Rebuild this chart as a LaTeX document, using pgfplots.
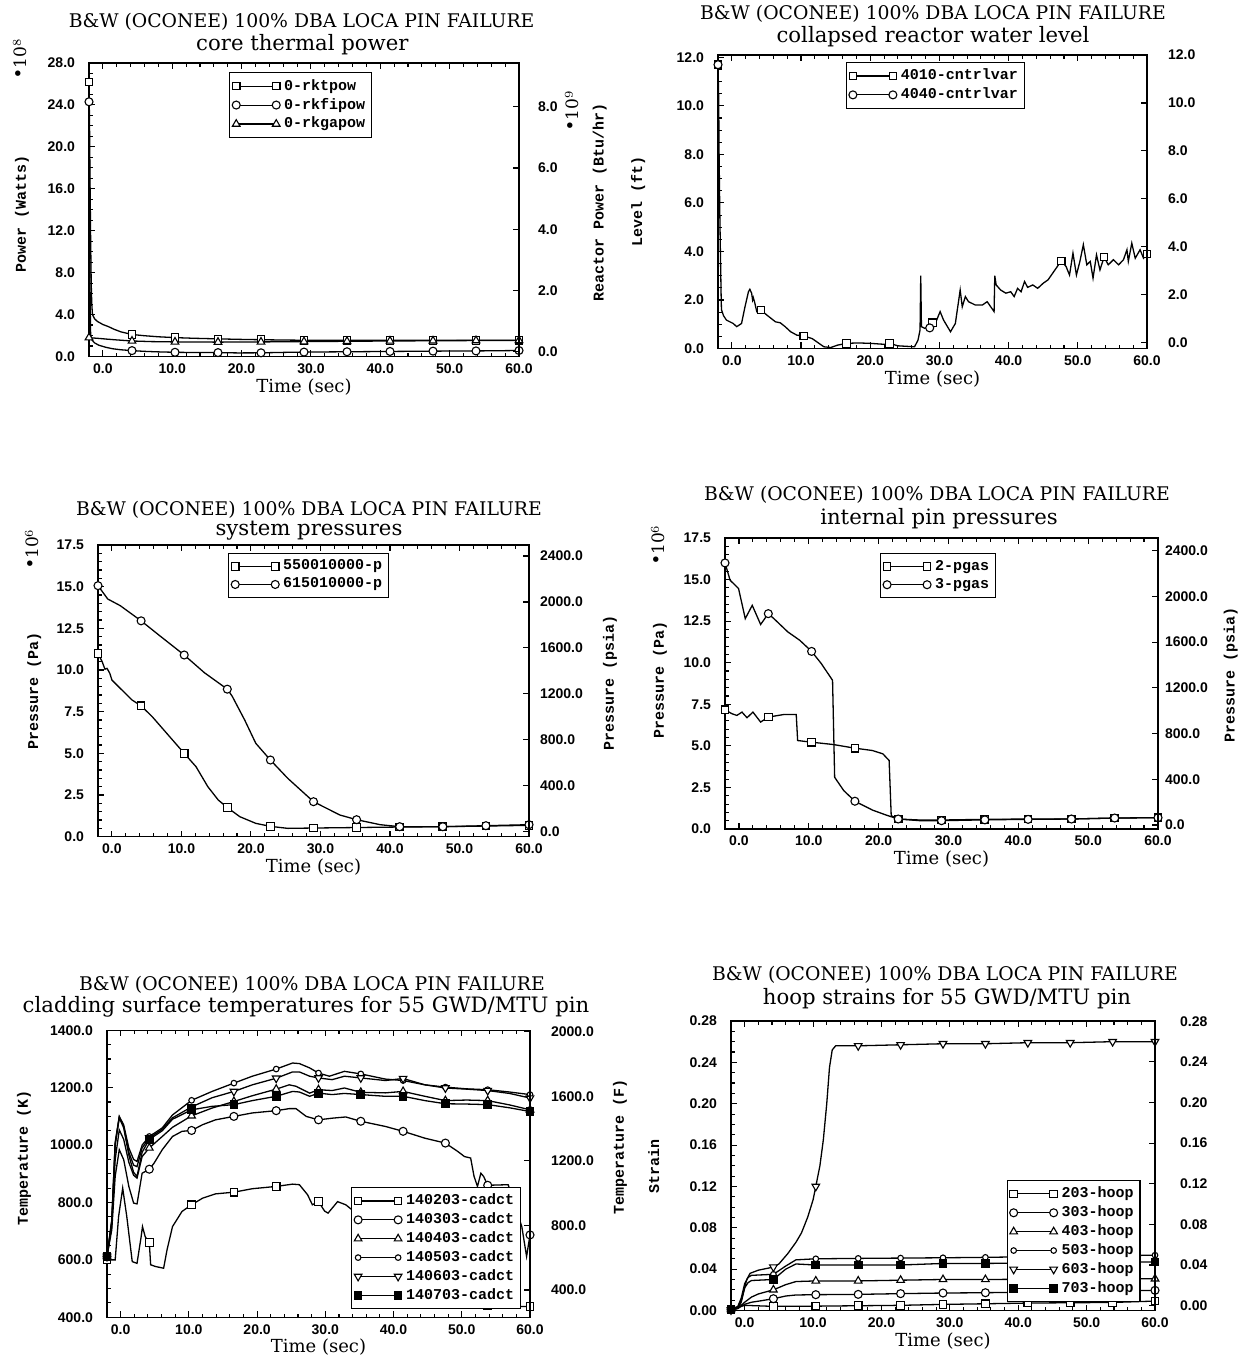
\documentclass[border=0pt]{standalone}
\usepackage{pgfplots}
\pgfplotsset{compat=1.18}
\usepackage{fontspec}
\setmainfont{DejaVu Serif}
\setsansfont{Liberation Sans}
\setmonofont{Liberation Mono}
\newcommand\tickfont{\sffamily\bfseries\fontsize{7}{8}\selectfont}
\newcommand\labfont{\rmfamily\fontsize{9}{10}\selectfont}
\newcommand\ylabfont{\ttfamily\bfseries\fontsize{7.5}{9}\selectfont}
\newcommand\legfont{\ttfamily\bfseries\fontsize{7.5}{8.5}\selectfont}
\newcommand\titfont{\rmfamily\fontsize{9.4}{11}\selectfont}
\newcommand\subfont{\rmfamily\fontsize{10.6}{12}\selectfont}
\newcommand\expfont{\rmfamily\fontsize{8.5}{10}\selectfont}
\tikzset{
  sq/.style={mark=square*, mark options={fill=white, solid}, mark size=1.9pt},
  ci/.style={mark=*, mark options={fill=white, solid}, mark size=2pt},
  tr/.style={mark=triangle*, mark options={fill=white, solid}, mark size=2.2pt},
  sc/.style={mark=*, mark options={fill=white, solid}, mark size=1.4pt},
  dt/.style={mark=triangle*, mark options={fill=white, solid, rotate=180}, mark size=2.2pt},
  fs/.style={mark=square*, mark options={fill=black, solid}, mark size=1.9pt},
}
\pgfplotsset{
  ln/.style={black, line width=0.65pt, no marks, forget plot},
  mk/.style={black, only marks, forget plot, line width=0.55pt},
  nf/.style={
    /pgf/number format/assume math mode=true,
    /pgf/number format/fixed,
    /pgf/number format/fixed zerofill,
    /pgf/number format/precision=1,
    /pgf/number format/1000 sep={},
  },
  base/.style={
    scale only axis, anchor=south west, axis line style={line width=0.65pt},
    xmin=-2, xmax=60, xtick={0,10,...,60}, minor x tick num=4,
    tick style={line width=0.55pt, black},
    tick label style={font=\tickfont},
    nf,
    yticklabel style={xshift=-3.5pt},
    major tick length=3pt, minor tick length=1.8pt,
    xlabel={Time (sec)}, xlabel style={font=\labfont, at={(axis description cs:0.5,-0.105)}, anchor=center},
    ylabel style={font=\ylabfont, anchor=center},
    ytick pos=left, xtick pos=both,
    legend style={font=\legfont, anchor=north west, draw=black, line width=0.65pt, inner sep=1.2pt, row sep=-1.5pt, cells={anchor=west}},
    legend image code/.code={\draw[##1, mark repeat=2, mark phase=1] plot coordinates {(0pt,0pt) (10pt,0pt) (20pt,0pt)};},
  },
  rightax/.style={
    scale only axis, anchor=south west,
    axis x line=none, axis y line*=right, axis line style={line width=0.65pt},
    xmin=-2, xmax=60,
    tick style={line width=0.55pt, black},
    tick label style={font=\tickfont},
    nf,
    major tick length=3pt, minor tick length=1.8pt,
    ylabel style={font=\ylabfont, anchor=center},
  },
}
\begin{document}
\begin{tikzpicture}[x=1pt,y=1pt]
\useasboundingbox (0,0) rectangle (619,679.5);

% ================= Panel 1 =================
\node[font=\titfont] at (150.8,668.6) {B\&W (OCONEE) 100\% DBA LOCA PIN FAILURE};
\node[font=\subfont] at (151.2,657.3) {core thermal power};
\node[font=\expfont, rotate=90] at (10,650.5) {$^{\bullet}$10$^{8}$};
\node[font=\expfont, rotate=90] at (286,624.5) {$^{\bullet}$10$^{9}$};
\begin{axis}[base, at={(44.5pt,501.25pt)}, width=215pt, height=146.75pt,
  ymin=0, ymax=28, ytick={0,4,...,28}, minor y tick num=3,
  ylabel={Power (Watts)}, ylabel style={at={(axis description cs:-0.156,0.486)}},
  legend style={at={(axis description cs:0.326,0.969)}}]
\addplot[ln] coordinates {(-2,26.2) (-1.92,22) (-1.84,16) (-1.76,11) (-1.68,7) (-1.6,5) (-1.5,4.0) (-1.2,3.6) (-0.8,3.35) (0,3.05) (0.8,2.85) (1.6,2.6) (2.6,2.35) (4.2,2.1) (6,1.98) (8,1.88) (10.4,1.8) (13,1.74) (16.6,1.68) (20,1.63) (22.8,1.6) (26,1.57) (29,1.55) (35.2,1.54) (41.4,1.54) (47.6,1.54) (53.8,1.54) (60,1.55)};
\addplot[mk, sq] coordinates {(-2,26.2) (4.2,2.1) (10.4,1.8) (16.6,1.68) (22.8,1.6) (29,1.55) (35.2,1.54) (41.4,1.54) (47.6,1.54) (53.8,1.54) (60,1.55)};
\addplot[ln] coordinates {(-2,24.3) (-1.96,20) (-1.92,15) (-1.88,10) (-1.84,6) (-1.8,3.5) (-1.76,2.0) (-1.6,1.6) (-1.2,1.3) (-0.6,1.08) (0.4,0.88) (1.4,0.74) (2.6,0.64) (4.2,0.56) (6,0.49) (8,0.44) (10.4,0.4) (13,0.38) (16.6,0.37) (19.5,0.34) (22.8,0.35) (26,0.39) (29,0.42) (35.2,0.45) (41.4,0.48) (47.6,0.51) (53.8,0.53) (60,0.57)};
\addplot[mk, ci] coordinates {(-2,24.3) (4.2,0.56) (10.4,0.4) (16.6,0.37) (22.8,0.35) (29,0.42) (35.2,0.45) (41.4,0.48) (47.6,0.51) (53.8,0.53) (60,0.57)};
\addplot[ln] coordinates {(-2,1.8) (-1.5,1.77) (-0.5,1.72) (0.5,1.66) (2,1.58) (4.2,1.48) (7,1.42) (10.4,1.39) (16.6,1.37) (22.8,1.39) (29,1.42) (35.2,1.45) (41.4,1.48) (47.6,1.5) (53.8,1.52) (60,1.53)};
\addplot[mk, tr] coordinates {(-2,1.8) (4.2,1.48) (10.4,1.39) (16.6,1.37) (22.8,1.39) (29,1.42) (35.2,1.45) (41.4,1.48) (47.6,1.5) (53.8,1.52) (60,1.53)};
\addlegendimage{black, line width=0.55pt, sq}\addlegendentry{0-rktpow}
\addlegendimage{black, line width=0.55pt, ci}\addlegendentry{0-rkfipow}
\addlegendimage{black, line width=0.55pt, tr}\addlegendentry{0-rkgapow}
\end{axis}
\begin{axis}[rightax, at={(44.5pt,501.25pt)}, width=215pt, height=146.75pt,
  ymin=-0.157, ymax=9.43, ytick={0,2,...,8},
  yticklabel style={xshift=6pt},
  ylabel={Reactor Power (Btu/hr)}, ylabel style={at={(axis description cs:1.188,0.523)}}]
\end{axis}

% ================= Panel 2 =================
\node[font=\titfont] at (466.5,672.8) {B\&W (OCONEE) 100\% DBA LOCA PIN FAILURE};
\node[font=\subfont] at (466.5,661) {collapsed reactor water level};
\begin{axis}[base, at={(359pt,505.25pt)}, width=214.5pt, height=146.75pt,
  ymin=0, ymax=12.1, ytick={0,2,...,12}, minor y tick num=3,
  ylabel={Level (ft)}, ylabel style={at={(axis description cs:-0.186,0.5)}},
  legend style={at={(axis description cs:0.298,0.976)}}]
\addplot[ln] coordinates {(-2,11.7) (-1.9,10.3) (-1.85,8.2) (-1.75,5.8) (-1.65,3.9) (-1.55,2.2) (-1.5,1.6) (-1.2,1.35) (-0.78,1.17) (0.2,1.03) (0.7,0.9) (1.4,1.03) (1.9,1.72) (2.4,2.34) (2.6,2.44) (2.86,2.28) (3.0,2.0) (3.1,2.1) (3.3,1.9) (3.6,1.52) (4.2,1.59) (5.05,1.38) (6.3,1.1) (7.0,1.06) (7.7,0.9) (8.5,0.69) (9.4,0.55) (10.4,0.51) (11.6,0.41) (12.6,0.21) (13.3,0.07) (14.3,0.04) (15.3,0.14) (16.6,0.21) (18.2,0.23) (20.1,0.21) (22.1,0.17) (22.8,0.21) (24,0.11) (26.4,0.07) (26.9,0.34) (27.2,0.76) (27.3,3.0) (27.4,0.9) (27.9,0.83) (28.4,0.92) (29,1.06) (29.4,1.03) (29.9,1.38) (30.1,1.52) (30.6,1.17) (31.6,0.69) (32.3,1.03) (33.0,2.41) (33.3,1.72) (33.75,2.14) (34.2,1.93) (35.2,1.79) (36.2,1.79) (36.9,1.93) (37.9,1.52) (38.0,3.0) (38.2,2.62) (38.85,2.41) (39.6,2.28) (40.3,2.34) (40.8,2.14) (41.3,2.48) (41.8,2.34) (42.3,2.76) (42.75,2.52) (43.5,2.62) (44.2,2.48) (45,2.69) (45.7,2.83) (46.7,3.24) (47.6,3.61) (48.3,3.38) (48.8,3.03) (49.3,3.93) (49.8,3.03) (50.3,3.59) (50.8,4.28) (51.3,3.45) (51.8,3.59) (52.2,2.9) (52.7,3.86) (53.2,3.24) (53.8,3.77) (54.4,3.45) (55.15,3.66) (55.9,3.45) (56.6,3.66) (57.1,4.07) (57.3,3.59) (57.8,4.34) (58.3,3.72) (59,4.07) (59.5,3.72) (60,3.89)};
\addplot[mk, sq] coordinates {(-2,11.7) (4.2,1.59) (10.4,0.51) (16.6,0.21) (22.8,0.21) (29,1.06) (47.6,3.61) (53.8,3.77) (60,3.89)};
\addplot[mk, ci] coordinates {(-2,11.7) (28.6,0.85)};
\addlegendimage{black, line width=0.55pt, sq}\addlegendentry{4010-cntrlvar}
\addlegendimage{black, line width=0.55pt, ci}\addlegendentry{4040-cntrlvar}
\end{axis}
\begin{axis}[rightax, at={(359pt,505.25pt)}, width=214.5pt, height=146.75pt,
  ymin=-0.235, ymax=12.0, ytick={0,2,...,12},
  yticklabel style={xshift=7pt}]
\end{axis}

% ================= Panel 3 =================
\node[font=\titfont] at (154.5,424.8) {B\&W (OCONEE) 100\% DBA LOCA PIN FAILURE};
\node[font=\subfont] at (154.5,414) {system pressures};
\node[font=\expfont, rotate=90] at (16,405.5) {$^{\bullet}$10$^{6}$};
\begin{axis}[base, at={(49pt,261.15pt)}, width=215.5pt, height=145.85pt,
  ymin=0, ymax=17.5, ytick={0,2.5,...,17.5}, minor y tick num=4,
  ylabel={Pressure (Pa)}, ylabel style={at={(axis description cs:-0.148,0.5)}},
  legend style={at={(axis description cs:0.302,0.973)}}]
\addplot[ln] coordinates {(-2,11.0) (-1.4,10.5) (-1,10.05) (-0.7,10.1) (-0.3,9.8) (0,9.4) (1.2,8.9) (2.9,8.2) (4.2,7.85) (5.8,7.2) (8.1,6.1) (10.4,5.0) (12.1,4.2) (13.8,3.0) (15.3,2.2) (16.6,1.75) (18.4,1.2) (20.7,0.8) (22.8,0.62) (25.3,0.5) (29,0.52) (35.2,0.55) (41.4,0.58) (47.6,0.6) (53.8,0.64) (60,0.68)};
\addplot[mk, sq] coordinates {(-2,11.0) (4.2,7.85) (10.4,5.0) (16.6,1.75) (22.8,0.62) (29,0.52) (35.2,0.55) (41.4,0.58) (47.6,0.6) (53.8,0.64) (60,0.68)};
\addplot[ln] coordinates {(-2,15.06) (-0.6,14.26) (1.2,13.86) (4.2,12.95) (6.9,12.05) (10.4,10.9) (13.3,9.84) (16.6,8.85) (17.3,8.43) (19.1,7.0) (20.7,5.6) (22.8,4.6) (25.3,3.5) (29,2.1) (32.8,1.3) (35.2,1.02) (38.6,0.72) (41.4,0.6) (47.6,0.6) (53.8,0.66) (60,0.72)};
\addplot[mk, ci] coordinates {(-2,15.06) (4.2,12.95) (10.4,10.9) (16.6,8.85) (22.8,4.6) (29,2.1) (35.2,1.02) (41.4,0.6) (47.6,0.6) (53.8,0.66) (60,0.72)};
\addlegendimage{black, line width=0.55pt, sq}\addlegendentry{550010000-p}
\addlegendimage{black, line width=0.55pt, ci}\addlegendentry{615010000-p}
\end{axis}
\begin{axis}[rightax, at={(49pt,261.15pt)}, width=215.5pt, height=145.85pt,
  ymin=-43.5, ymax=2496, ytick={0,400,...,2400},
  yticklabel style={xshift=2pt},
  ylabel={Pressure (psia)}, ylabel style={at={(axis description cs:1.188,0.527)}}]
\end{axis}

% ================= Panel 4 =================
\node[font=\titfont] at (468.5,432) {B\&W (OCONEE) 100\% DBA LOCA PIN FAILURE};
\node[font=\subfont] at (469.5,420.2) {internal pin pressures};
\node[font=\expfont, rotate=90] at (329,407.5) {$^{\bullet}$10$^{6}$};
\begin{axis}[base, at={(362.5pt,265pt)}, width=216.5pt, height=145.5pt,
  ymin=0, ymax=17.5, ytick={0,2.5,...,17.5}, minor y tick num=4,
  ylabel={Pressure (Pa)}, ylabel style={at={(axis description cs:-0.15,0.512)}},
  legend style={at={(axis description cs:0.358,0.948)}}]
\addplot[ln] coordinates {(-2,7.17) (-1.0,6.93) (-0.3,6.83) (0.43,7.03) (1.15,6.69) (2.0,7.03) (3.1,6.43) (4.2,6.73) (6.5,6.89) (8.2,6.89) (8.4,5.32) (10.4,5.22) (13.5,5.08) (16.6,4.86) (19.1,4.72) (20.6,4.52) (21.5,4.12) (21.8,0.8) (22.8,0.6) (25.9,0.54) (29,0.54) (35.2,0.58) (41.4,0.6) (47.6,0.6) (53.8,0.66) (60,0.68)};
\addplot[mk, sq] coordinates {(-2,7.17) (4.2,6.73) (10.4,5.22) (16.6,4.86) (22.8,0.6) (29,0.54) (35.2,0.58) (41.4,0.6) (47.6,0.6) (53.8,0.66) (60,0.68)};
\addplot[ln] coordinates {(-2,16.0) (-1.27,14.96) (-0.06,14.46) (0.9,12.65) (1.9,13.45) (3.1,12.3) (4.2,12.95) (5.0,12.65) (7.0,11.85) (8.7,11.35) (10.4,10.68) (11.8,9.94) (13.4,8.94) (13.7,3.11) (15.0,2.31) (16.6,1.67) (19.1,1.14) (21.06,0.84) (22.8,0.6) (25.9,0.5) (29,0.5) (35.2,0.55) (41.4,0.58) (47.6,0.6) (53.8,0.66) (60,0.68)};
\addplot[mk, ci] coordinates {(-2,16.0) (4.2,12.95) (10.4,10.68) (16.6,1.67) (22.8,0.6) (29,0.5) (35.2,0.55) (41.4,0.58) (47.6,0.6) (53.8,0.66) (60,0.68)};
\addlegendimage{black, line width=0.55pt, sq}\addlegendentry{2-pgas}
\addlegendimage{black, line width=0.55pt, ci}\addlegendentry{3-pgas}
\end{axis}
\begin{axis}[rightax, at={(362.5pt,265pt)}, width=216.5pt, height=145.5pt,
  ymin=-35, ymax=2511, ytick={0,400,...,2400},
  yticklabel style={xshift=0pt},
  ylabel={Pressure (psia)}, ylabel style={at={(axis description cs:1.168,0.529)}}]
\end{axis}

% ================= Panel 5 =================
\node[font=\titfont] at (156,187) {B\&W (OCONEE) 100\% DBA LOCA PIN FAILURE};
\node[font=\subfont] at (153,176) {cladding surface temperatures for 55 GWD/MTU pin};
\begin{axis}[base, at={(53.5pt,20.85pt)}, width=211.5pt, height=143.5pt,
  ymin=400, ymax=1400, ytick={400,600,...,1400}, minor y tick num=3,
  ylabel={Temperature (K)}, ylabel style={at={(axis description cs:-0.196,0.555)}},
  legend style={at={(axis description cs:0.577,0.454)}}]
% 140203
\addplot[ln] coordinates {(-2,600) (-0.8,600) (-0.3,751) (0.3,850) (0.9,751) (1.7,594) (2.4,588) (3.0,680) (3.2,716) (3.6,681) (4.2,660) (4.4,583) (5.1,577) (6.3,571) (6.8,635) (7.6,716) (9.0,769) (10.4,792) (12.0,815) (13.9,830) (16.6,836) (19.3,848) (22.8,856) (25.2,864) (26.2,862) (27.4,827) (28.1,792) (29,803) (29.9,770) (30.4,763) (31.8,803) (33,792) (34.2,769) (36,760) (38,740) (39.5,700) (41,520) (42.5,450) (47.6,445) (53.8,440) (60,437)};
\addplot[mk, sq] coordinates {(-2,600) (4.2,660) (10.4,792) (16.6,836) (22.8,856) (29,803) (35.2,765) (41.4,500) (47.6,445) (53.8,440) (60,437)};
% 140303
\addplot[ln] coordinates {(-2,612) (-1.3,705) (-0.8,891) (-0.2,984) (0.45,949) (1.2,856) (1.9,798) (2.4,795) (3.15,902) (4.2,916) (4.9,937) (6.1,984) (7.6,1030) (9.0,1048) (10.4,1051) (12.0,1071) (13.9,1088) (16.6,1100) (19.3,1112) (22.8,1120) (24.7,1127) (25.7,1127) (27.2,1100) (29,1088) (31.1,1094) (33,1098) (35.2,1083) (38.8,1065) (41.4,1048) (44.6,1024) (47.6,1007) (49.4,978) (50.4,960) (51.3,955) (51.8,891) (52.3,856) (52.8,902) (53.2,891) (53.8,860) (56.8,862) (58.8,716) (59.5,612) (60,687)};
\addplot[mk, ci] coordinates {(-2,612) (4.2,916) (10.4,1051) (16.6,1100) (22.8,1120) (29,1088) (35.2,1083) (41.4,1048) (47.6,1007) (53.8,860) (60,687)};
% 140403
\addplot[ln] coordinates {(-2,612) (-1.3,720) (-0.8,950) (-0.2,1053) (0.45,1020) (1.2,940) (1.9,895) (2.4,885) (3.15,960) (4.2,990) (6.1,1030) (7.6,1062) (10.4,1102) (13.4,1129) (16.6,1152) (19.3,1172) (22.8,1195) (24.7,1210) (25.7,1205) (27.7,1181) (29,1193) (31,1190) (32.8,1199) (35.2,1184) (38.8,1182) (41.4,1187) (44.6,1170) (47.6,1155) (50.7,1157) (53.8,1155) (57,1140) (60,1123)};
\addplot[mk, tr] coordinates {(-2,612) (4.2,990) (10.4,1102) (16.6,1152) (22.8,1195) (29,1193) (35.2,1184) (41.4,1187) (47.6,1155) (53.8,1155) (60,1123)};
% 140503
\addplot[ln] coordinates {(-2,612) (-1.3,740) (-0.8,1010) (-0.2,1100) (0.45,1070) (1.2,990) (1.9,950) (2.4,943) (3.15,1000) (4.2,1030) (6.1,1060) (7.6,1105) (10.4,1156) (13.4,1187) (16.6,1216) (19.3,1240) (22.8,1265) (25.2,1286) (26.2,1284) (27.7,1269) (29,1251) (30.6,1240) (32.8,1257) (35.2,1248) (38.8,1230) (41.4,1225) (44.6,1210) (47.6,1202) (50.7,1196) (53.8,1193) (57,1185) (60,1176)};
\addplot[mk, sc] coordinates {(-2,612) (4.2,1030) (10.4,1156) (16.6,1216) (22.8,1265) (29,1251) (35.2,1248) (41.4,1225) (47.6,1202) (53.8,1193) (60,1176)};
% 140603
\addplot[ln] coordinates {(-2,612) (-1.3,735) (-0.8,1005) (-0.2,1098) (0.45,1065) (1.2,975) (1.9,930) (2.4,925) (3.15,990) (4.2,1025) (6.1,1055) (7.6,1095) (10.4,1133) (13.4,1165) (16.6,1187) (19.3,1210) (22.8,1233) (25.2,1255) (26.2,1255) (27.7,1240) (29,1234) (31,1228) (32.8,1240) (35.2,1234) (38.8,1225) (41.4,1232) (44.6,1210) (47.6,1199) (50.7,1195) (53.8,1190) (57,1180) (60,1164)};
\addplot[mk, dt] coordinates {(-2,612) (4.2,1025) (10.4,1133) (16.6,1187) (22.8,1233) (29,1234) (35.2,1234) (41.4,1232) (47.6,1199) (53.8,1190) (60,1164)};
% 140703
\addplot[ln] coordinates {(-2,612) (-1.3,730) (-0.8,1000) (-0.2,1095) (0.45,1060) (1.2,965) (1.9,905) (2.4,891) (3.15,975) (4.2,1020) (6.1,1050) (7.6,1090) (10.4,1123) (13.4,1135) (16.6,1141) (19.3,1155) (22.8,1170) (25.2,1187) (26.2,1185) (27.7,1170) (29,1181) (31,1176) (32.8,1180) (35.2,1176) (38.8,1170) (41.4,1170) (44.6,1155) (47.6,1144) (50.7,1143) (53.8,1141) (57,1130) (60,1117)};
\addplot[mk, fs] coordinates {(-2,612) (4.2,1020) (10.4,1123) (16.6,1141) (22.8,1170) (29,1181) (35.2,1176) (41.4,1170) (47.6,1144) (53.8,1141) (60,1117)};
\addlegendimage{black, line width=0.55pt, sq}\addlegendentry{140203-cadct}
\addlegendimage{black, line width=0.55pt, ci}\addlegendentry{140303-cadct}
\addlegendimage{black, line width=0.55pt, tr}\addlegendentry{140403-cadct}
\addlegendimage{black, line width=0.55pt, sc}\addlegendentry{140503-cadct}
\addlegendimage{black, line width=0.55pt, dt}\addlegendentry{140603-cadct}
\addlegendimage{black, line width=0.55pt, fs}\addlegendentry{140703-cadct}
\end{axis}
\begin{axis}[rightax, at={(53.5pt,20.85pt)}, width=211.5pt, height=143.5pt,
  ymin=231, ymax=2009, ytick={400,800,...,2000},
  yticklabel style={xshift=7pt},
  ylabel={Temperature (F)}, ylabel style={at={(axis description cs:1.213,0.593)}}]
\end{axis}

% ================= Panel 6 =================
\node[font=\titfont] at (472.5,192) {B\&W (OCONEE) 100\% DBA LOCA PIN FAILURE};
\node[font=\subfont] at (473.5,180.2) {hoop strains for 55 GWD/MTU pin};
\begin{axis}[base, at={(365.5pt,24.25pt)}, width=212pt, height=144.75pt,
  ymin=0, ymax=0.28, ytick={0,0.04,0.08,0.12,0.16,0.2,0.24,0.28}, minor y tick num=3,
  yticklabel style={/pgf/number format/precision=2},
  ylabel={Strain}, ylabel style={at={(axis description cs:-0.182,0.496)}},
  legend style={at={(axis description cs:0.65,0.451)}}]
\addplot[ln] coordinates {(-2,0.0015) (-1,0.003) (0,0.005) (2,0.0045) (4.2,0.004) (10.4,0.0042) (16.6,0.0046) (22.8,0.005) (29,0.0059) (35.2,0.0065) (41.4,0.0072) (47.6,0.0075) (53.8,0.0078) (60,0.0091)};
\addplot[mk, sq] coordinates {(-2,0.0015) (4.2,0.004) (10.4,0.0042) (16.6,0.0046) (22.8,0.005) (29,0.0059) (35.2,0.0065) (41.4,0.0072) (47.6,0.0075) (53.8,0.0078) (60,0.0091)};
\addplot[ln] coordinates {(-2,0.001) (-1,0.002) (0,0.006) (1,0.008) (2,0.009) (4.2,0.0114) (6,0.014) (7.5,0.015) (10.4,0.0153) (16.6,0.0156) (22.8,0.0163) (29,0.0169) (35.2,0.0172) (41.4,0.0178) (47.6,0.0183) (53.8,0.0188) (60,0.0195)};
\addplot[mk, ci] coordinates {(-2,0.001) (4.2,0.0114) (10.4,0.0153) (16.6,0.0156) (22.8,0.0163) (29,0.0169) (35.2,0.0172) (41.4,0.0178) (47.6,0.0183) (53.8,0.0188) (60,0.0195)};
\addplot[ln] coordinates {(-2,0.001) (-1,0.002) (0,0.008) (1,0.013) (2,0.016) (4.2,0.02) (6,0.025) (7.5,0.028) (10.4,0.0286) (16.6,0.0286) (22.8,0.0293) (29,0.03) (35.2,0.03) (41.4,0.0302) (47.6,0.0304) (53.8,0.0305) (60,0.0307)};
\addplot[mk, tr] coordinates {(-2,0.001) (4.2,0.02) (10.4,0.0286) (16.6,0.0286) (22.8,0.0293) (29,0.03) (35.2,0.03) (41.4,0.0302) (47.6,0.0304) (53.8,0.0305) (60,0.0307)};
\addplot[ln] coordinates {(-2,0.001) (-1,0.004) (-0.5,0.012) (0,0.026) (0.5,0.032) (1,0.034) (4.2,0.035) (6,0.043) (7.5,0.049) (10.4,0.05) (16.6,0.0504) (22.8,0.0507) (29,0.051) (35.2,0.0514) (41.4,0.052) (47.6,0.0525) (53.8,0.053) (60,0.0535)};
\addplot[mk, sc] coordinates {(-2,0.001) (4.2,0.035) (10.4,0.05) (16.6,0.0504) (22.8,0.0507) (29,0.051) (35.2,0.0514) (41.4,0.052) (47.6,0.0525) (53.8,0.053) (60,0.0535)};
\addplot[ln] coordinates {(-2,0.0005) (-1,0.002) (-0.5,0.008) (0,0.022) (0.3,0.03) (0.8,0.036) (2,0.039) (4.2,0.042) (5,0.045) (6.3,0.055) (7.5,0.066) (8.3,0.075) (9.2,0.09) (10,0.107) (10.4,0.12) (11,0.14) (11.5,0.165) (12,0.2) (12.4,0.235) (12.8,0.252) (13.3,0.256) (16.6,0.256) (22.8,0.257) (29,0.258) (35.2,0.258) (41.4,0.259) (47.6,0.259) (53.8,0.26) (60,0.26)};
\addplot[mk, dt] coordinates {(-2,0.0005) (4.2,0.042) (10.4,0.12) (16.6,0.256) (22.8,0.257) (29,0.258) (35.2,0.258) (41.4,0.259) (47.6,0.259) (53.8,0.26) (60,0.26)};
\addplot[ln] coordinates {(-2,0.0005) (-1,0.003) (-0.5,0.01) (0,0.022) (0.5,0.027) (1,0.029) (4.2,0.03) (6,0.04) (7.5,0.045) (10.4,0.044) (16.6,0.044) (22.8,0.044) (29,0.0455) (35.2,0.0455) (41.4,0.046) (47.6,0.0465) (53.8,0.047) (60,0.047)};
\addplot[mk, fs] coordinates {(-2,0.0005) (4.2,0.03) (10.4,0.044) (16.6,0.044) (22.8,0.044) (29,0.0455) (35.2,0.0455) (41.4,0.046) (47.6,0.0465) (53.8,0.047) (60,0.047)};
\addlegendimage{black, line width=0.55pt, sq}\addlegendentry{203-hoop}
\addlegendimage{black, line width=0.55pt, ci}\addlegendentry{303-hoop}
\addlegendimage{black, line width=0.55pt, tr}\addlegendentry{403-hoop}
\addlegendimage{black, line width=0.55pt, sc}\addlegendentry{503-hoop}
\addlegendimage{black, line width=0.55pt, dt}\addlegendentry{603-hoop}
\addlegendimage{black, line width=0.55pt, fs}\addlegendentry{703-hoop}
\end{axis}
\begin{axis}[rightax, at={(365.5pt,24.25pt)}, width=212pt, height=144.75pt,
  ymin=-0.0048, ymax=0.2802, ytick={0,0.04,0.08,0.12,0.16,0.2,0.24,0.28},
  yticklabel style={xshift=9pt, /pgf/number format/precision=2}]
\end{axis}
\end{tikzpicture}
\end{document}
